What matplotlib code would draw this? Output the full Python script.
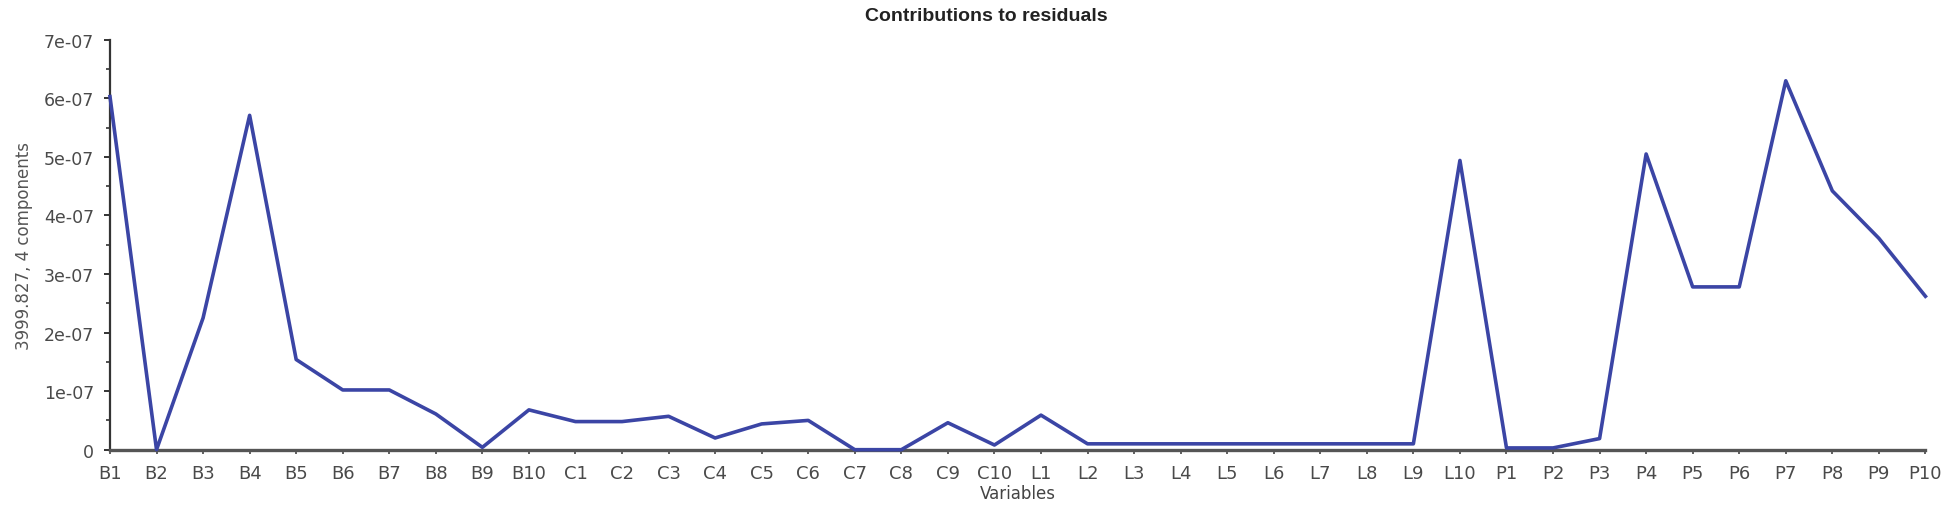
import numpy as np
import matplotlib.pyplot as plt
from matplotlib.ticker import MultipleLocator

# contributions to residuals, one value per variable
variables = ['B1', 'B2', 'B3', 'B4', 'B5', 'B6', 'B7', 'B8', 'B9', 'B10',
             'C1', 'C2', 'C3', 'C4', 'C5', 'C6', 'C7', 'C8', 'C9', 'C10',
             'L1', 'L2', 'L3', 'L4', 'L5', 'L6', 'L7', 'L8', 'L9', 'L10',
             'P1', 'P2', 'P3', 'P4', 'P5', 'P6', 'P7', 'P8', 'P9', 'P10']
contrib = [6.03, 0.0, 2.25, 5.71, 1.54, 1.02, 1.02, 0.61, 0.04, 0.68,
           0.48, 0.48, 0.57, 0.20, 0.44, 0.50, 0.0, 0.0, 0.46, 0.08,
           0.59, 0.10, 0.10, 0.10, 0.10, 0.10, 0.10, 0.10, 0.10, 4.94,
           0.03, 0.03, 0.19, 5.05, 2.78, 2.78, 6.30, 4.42, 3.61, 2.62]
contrib = np.array(contrib) * 1e-07

ytick_vals = [0, 1e-07, 2e-07, 3e-07, 4e-07, 5e-07, 6e-07, 7e-07]
ytick_labels = ['0', '1e-07', '2e-07', '3e-07', '4e-07', '5e-07', '6e-07', '7e-07']

plt.rcParams['font.family'] = ['DejaVu Sans']

fig = plt.figure(figsize=(19.5, 5.1), dpi=100)
ax = fig.add_axes([0.0564, 0.1163, 0.931, 0.8037])

x = np.arange(len(variables))
ax.plot(x, contrib, color='#3b45a5', linewidth=2.6, clip_on=False, zorder=5)

ax.set_xlim(0, len(variables) - 1)
ax.set_ylim(0, 7e-07)

ax.set_xticks(x)
ax.set_xticklabels(variables)
ax.set_yticks(ytick_vals)
ax.set_yticklabels(ytick_labels)
ax.yaxis.set_minor_locator(MultipleLocator(0.5e-07))

ax.spines['top'].set_visible(False)
ax.spines['right'].set_visible(False)
ax.spines['left'].set_color('#333333')
ax.spines['left'].set_linewidth(1.6)
ax.spines['bottom'].set_color('#555555')
ax.spines['bottom'].set_linewidth(2.4)

ax.tick_params(axis='x', length=3, width=1.2, color='#444444', pad=7,
               labelsize=13, labelcolor='#4a4a4a')
ax.tick_params(axis='y', which='major', length=4.5, width=1.4, color='#333333',
               pad=7, labelsize=12.5, labelcolor='#4a4a4a')
ax.tick_params(axis='y', which='minor', length=3, width=1.2, color='#333333')

ax.set_xlabel('Variables', fontsize=12, color='#444444', labelpad=2)
ax.set_ylabel('3999.827, 4 components', fontsize=12, color='#555555', labelpad=8)

fig.text(0.5056, 0.967, 'Contributions to residuals', ha='center', va='center',
         fontsize=14, fontweight='bold', color='#222222',
         family=['Liberation Sans Narrow', 'Liberation Sans', 'DejaVu Sans'])

fig.savefig('out.png', dpi=100)
